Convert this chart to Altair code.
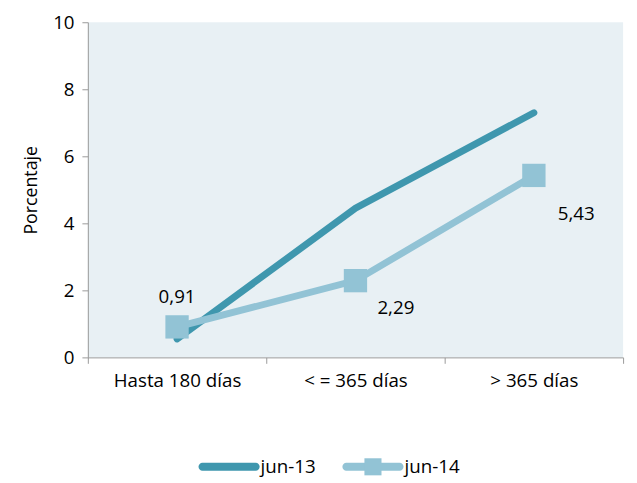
import altair as alt
import pandas as pd

categories = ["Hasta 180 días", "< = 365 días", "> 365 días"]
jun13 = [0.55, 4.45, 7.3]
jun14 = [0.91, 2.29, 5.43]
labels14 = ["0,91", "2,29", "5,43"]
series = ["jun-13", "jun-14"]
colors = ["#3f97ae", "#92c3d5"]

rows = []
for c, v in zip(categories, jun13):
    rows.append({"cat": c, "serie": "jun-13", "val": v, "lab": ""})
for c, v, l in zip(categories, jun14, labels14):
    rows.append({"cat": c, "serie": "jun-14", "val": v, "lab": l})
df = pd.DataFrame(rows)
leg_df = pd.DataFrame({"serie": series})

FONT = "Open Sans"
FS = 19

x = alt.X("cat:N", sort=categories, title=None,
          scale=alt.Scale(paddingInner=0, paddingOuter=0),
          axis=alt.Axis(labelAngle=0, tickBand="extent", labelFontSize=FS,
                        labelColor="#000", domainColor="#999", tickColor="#999",
                        tickSize=6, labelPadding=9, grid=False))
y = alt.Y("val:Q", title="Porcentaje",
          scale=alt.Scale(domain=[0, 10]),
          axis=alt.Axis(values=[0, 2, 4, 6, 8, 10], labelFontSize=FS, labelColor="#000",
                        titleFontSize=18, titleFontWeight="normal", titleColor="#000",
                        domainColor="#999", tickColor="#999", tickSize=6,
                        labelPadding=8, titlePadding=12, grid=False))
color = alt.Color("serie:N", scale=alt.Scale(domain=series, range=colors), legend=None)

base = alt.Chart(df)
l13 = base.transform_filter(alt.datum.serie == "jun-13").mark_line(
    strokeWidth=7, strokeCap="round").encode(x=x, y=y, color=color)
l14 = base.transform_filter(alt.datum.serie == "jun-14").mark_line(
    strokeWidth=7).encode(x=x, y=y, color=color)
p14 = base.transform_filter(alt.datum.serie == "jun-14").mark_square(
    size=560, opacity=1, color=colors[1]).encode(x=x, y=y)


def lab(cat, dx, dy):
    return base.transform_filter(
        (alt.datum.serie == "jun-14") & (alt.datum.cat == cat)
    ).mark_text(fontSize=FS, dx=dx, dy=dy, align="center", color="#000",
                font=FONT).encode(x=x, y=y, text="lab:N")


main = alt.layer(
    l13, l14, p14,
    lab(categories[0], 0, -30),
    lab(categories[1], 41, 28),
    lab(categories[2], 43, 39),
).properties(width=543, height=340, view=alt.ViewBackground(fill="#e8f0f4", stroke=None))

# custom legend
lx = alt.X("serie:N", sort=series, title=None, axis=None,
           scale=alt.Scale(paddingInner=0, paddingOuter=0.86, align=0.28))
lbase = alt.Chart(leg_df)
leg_line = lbase.mark_tick(orient="horizontal", size=62, thickness=8,
                           cornerRadius=4, opacity=1).encode(
    x=lx, y=alt.value(10), color=alt.Color("serie:N", scale=alt.Scale(domain=series, range=colors), legend=None))
leg_sq = lbase.transform_filter(alt.datum.serie == "jun-14").mark_square(
    size=300, opacity=1, color=colors[1]).encode(x=lx, y=alt.value(10))
leg_txt = lbase.mark_text(align="left", dx=32, fontSize=FS, color="#000", font=FONT).encode(
    x=lx, y=alt.value(10), text="serie:N")
legend = alt.layer(leg_line, leg_sq, leg_txt).properties(
    width=543, height=20, view=alt.ViewBackground(fill=None, stroke=None))

chart = alt.vconcat(main, legend, spacing=67).properties(
    padding={"left": 15, "top": 2, "right": 5, "bottom": 5},
).configure(font=FONT)

chart.save("out.html", embed_options={"renderer": "svg", "actions": False})
